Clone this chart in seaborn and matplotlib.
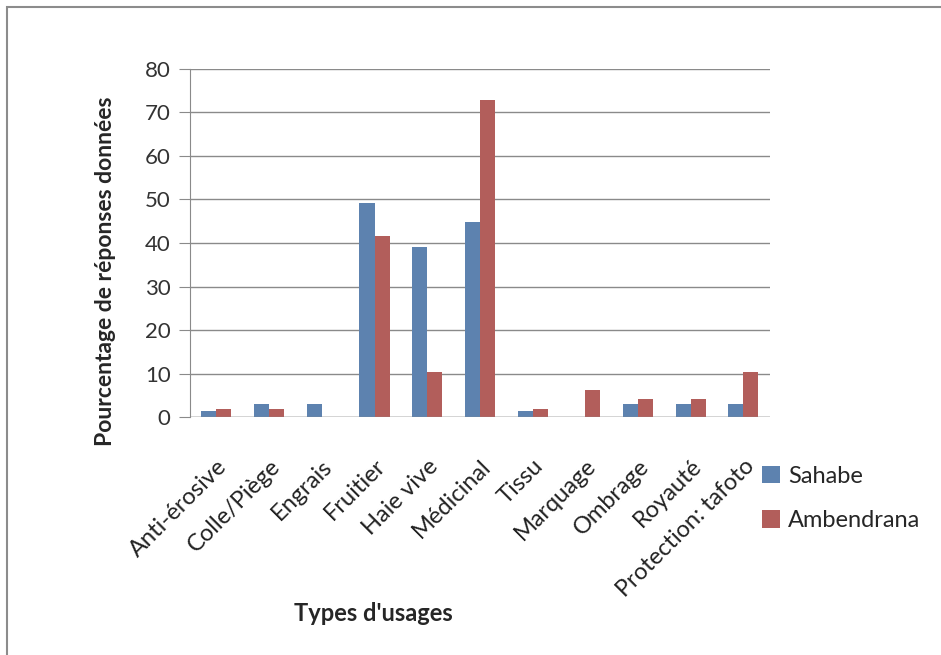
import pandas as pd
import seaborn as sns
import matplotlib.pyplot as plt
from matplotlib.patches import Rectangle

# values
usages = ['Anti-érosive', 'Colle/Piège', 'Engrais', 'Fruitier', 'Haie vive',
          'Médicinal', 'Tissu', 'Marquage', 'Ombrage', 'Royauté',
          'Protection: tafoto']
sahabe = [1.5, 3, 3, 49.2, 39, 44.8, 1.5, 0, 3, 3, 3]
ambendrana = [2, 2, 0, 41.7, 10.4, 72.9, 2, 6.2, 4.2, 4.2, 10.4]

df = pd.DataFrame({'Usage': usages * 2,
                   'Valeur': sahabe + ambendrana,
                   'Site': ['Sahabe'] * len(usages) + ['Ambendrana'] * len(usages)})

sns.set_style('white')
plt.rcParams['font.family'] = ['Lato', 'DejaVu Sans']

fig = plt.figure(figsize=(9.41, 6.55), dpi=100)
ax = fig.add_axes([0.202, 0.363, 0.616, 0.532])

# outer frame like the spreadsheet chart area
fig.patches.append(Rectangle((0.007, -0.05), 1.1, 1.04, transform=fig.transFigure,
                             fill=False, edgecolor='#8c8c8c', linewidth=1.5))

sns.barplot(data=df, x='Usage', y='Valeur', hue='Site', order=usages,
            palette=['#4F81BD', '#C0504D'], width=0.57, gap=0,
            edgecolor='none', ax=ax)

ax.set_ylim(0, 80)
ax.set_xlim(-0.5, len(usages) - 0.5)
ax.set_yticks(range(0, 81, 10))
ax.yaxis.grid(True, color='#8a8a8a', linewidth=1)
ax.set_axisbelow(True)
for s in ['top', 'right', 'bottom']:
    ax.spines[s].set_visible(False)
ax.spines['left'].set_color('#8a8a8a')
ax.axhline(0, color='#8a8a8a', linewidth=1)
ax.tick_params(axis='y', left=True, length=8, color='#8a8a8a', labelsize=16,
               labelcolor='#333333', pad=6)
ax.tick_params(axis='x', bottom=False, labelsize=17, labelcolor='#222222', pad=24)
plt.setp(ax.get_xticklabels(), rotation=45, ha='right', rotation_mode='anchor')

ax.set_ylabel('Pourcentage de réponses données', fontsize=16.5, fontweight='bold')
ax.yaxis.set_label_coords(-0.128, 0.42)
ax.set_xlabel("Types d'usages", fontsize=17, fontweight='bold')
ax.xaxis.set_label_coords(0.316, -0.53)

leg = ax.legend(loc='upper left', bbox_to_anchor=(0.95, -0.078), frameon=False,
                fontsize=17, handlelength=0.75, handleheight=0.75,
                labelspacing=1.0, handletextpad=0.35)

fig.savefig('out.png', dpi=100)
